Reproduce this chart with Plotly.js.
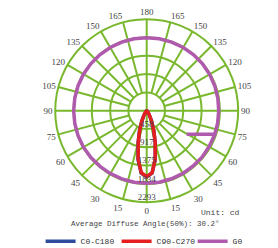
<!DOCTYPE html>
<html>
<head>
<meta charset="utf-8">
<script src="https://cdn.plot.ly/plotly-3.0.1.min.js"></script>
<style>html,body{margin:0;padding:0;background:#fff;}#chart{width:278px;height:248px;}</style>
</head>
<body>
<div id="chart"></div>
<script>
// ---- data ----
var seriesNames = ['C0-C180', 'C90-C270', 'G0'];
// beam curves: angle (deg, 0 = straight down) and intensity (cd)
var beamAngles = [-90, -80, -70, -60, -50, -45, -40, -35, -30, -25, -20, -15, -10, -5, 0, 5, 10, 15, 20, 25, 30, 35, 40, 45, 50, 60, 70, 80, 90];
var c0Values   = [0, 0, 1, 3, 9, 16, 37, 78, 155, 300, 525, 840, 1250, 1575, 1660, 1565, 1235, 825, 512, 292, 150, 75, 35, 15, 8, 3, 1, 0, 0];
var c90Values  = [0, 0, 1, 3, 8, 15, 35, 75, 150, 290, 510, 820, 1230, 1560, 1654, 1560, 1230, 820, 510, 290, 150, 75, 35, 15, 8, 3, 1, 0, 0];
// G0 curve
var g0Angles = [59.5, 71, 80, 90, 100, 110, 120, 130, 140, 150, 160, 170, 180, 190, 200, 210, 220, 230, 240, 250, 260, 270, 280, 290, 300, 310, 320, 330, 340, 350, 360, 370, 380, 390, 400, 410, 420, 430, 431];
var g0Values = [1163, 1805, 1805, 1805, 1810, 1815, 1820, 1825, 1830, 1830, 1830, 1830, 1830, 1830, 1830, 1830, 1830, 1830, 1830, 1830, 1830, 1830, 1830, 1830, 1830, 1825, 1820, 1820, 1820, 1820, 1820, 1820, 1815, 1815, 1810, 1810, 1805, 1805, 1805];
// radial ticks
var radialTicks = [458.6, 917.2, 1375.8, 1834.4, 2293];
var radialLabels = ['458', '917', '1375', '1834', '2293'];
// angular ticks
var angleTicks = [0, 15, 30, 45, 60, 75, 90, 105, 120, 135, 150, 165, 180, 195, 210, 225, 240, 255, 270, 285, 300, 315, 330, 345];
var angleLabels = ['0', '15', '30', '45', '60', '75', '90', '105', '120', '135', '150', '165', '180', '165', '150', '135', '120', '105', '90', '75', '60', '45', '30', '15'];
var unitText = 'Unit: cd';
var noteText = 'Average Diffuse Angle(50%): 30.2°';

// ---- styling ----
var green = '#79b82e';
var colors = ['#2d4c9c', '#e51f1f', '#b05aae'];
var monoFont = '"Liberation Mono", "Courier New", monospace';
var serifFont = '"Liberation Serif", "Times New Roman", serif';

// spoke grid (drawn from first ring outward, plus full cross)
var rMax = radialTicks[radialTicks.length - 1];
var gTheta = [], gR = [];
angleTicks.forEach(function (a) {
  if (a % 90 === 0) return;
  gTheta.push(a, a, null); gR.push(radialTicks[0], rMax, null);
});
gTheta.push(0, 0, 180, null, 90, 90, 270); gR.push(rMax, 0, rMax, null, rMax, 0, rMax);

var traces = [
  {type: 'scatterpolar', mode: 'lines', theta: gTheta, r: gR, connectgaps: false,
   line: {color: green, width: 2}, showlegend: false, hoverinfo: 'skip'},
  {type: 'scatterpolar', mode: 'lines', name: seriesNames[0], theta: beamAngles, r: c0Values,
   line: {color: colors[0], width: 3.5}},
  {type: 'scatterpolar', mode: 'lines', name: seriesNames[1], theta: beamAngles, r: c90Values,
   line: {color: colors[1], width: 3.5}},
  {type: 'scatterpolar', mode: 'lines', name: seriesNames[2], theta: g0Angles, r: g0Values,
   line: {color: colors[2], width: 3.5}},
  {type: 'scatterpolar', mode: 'text', theta: radialTicks.map(function () { return 0; }), r: radialTicks,
   text: radialLabels, textposition: 'top center', cliponaxis: false,
   textfont: {family: serifFont, size: 9, color: '#444'}, showlegend: false, hoverinfo: 'skip'}
];

var layout = {
  width: 278, height: 248,
  margin: {l: 0, r: 0, t: 0, b: 0, autoexpand: false},
  paper_bgcolor: '#fff',
  showlegend: true,
  polar: {
    domain: {x: [0.1986, 0.8568], y: [0.1847, 0.9226]},
    bgcolor: '#fff',
    angularaxis: {
      rotation: 270, direction: 'counterclockwise',
      tickmode: 'array', tickvals: angleTicks, ticktext: angleLabels,
      showgrid: false, showline: true, linecolor: green, linewidth: 2, ticks: '',
      tickfont: {family: serifFont, size: 9, color: '#444'}
    },
    radialaxis: {
      range: [0, rMax], autorange: false,
      tickmode: 'array', tickvals: radialTicks,
      showticklabels: false, showline: false, ticks: '',
      gridcolor: green, gridwidth: 2
    }
  },
  legend: {
    orientation: 'h', x: 0.146, xanchor: 'left', y: 0.027, yanchor: 'middle',
    entrywidth: 31, entrywidthmode: 'pixels', itemwidth: 30,
    font: {family: monoFont, size: 8, color: '#333'},
    bgcolor: 'rgba(0,0,0,0)', tracegroupgap: 0
  },
  annotations: [
    {xref: 'paper', yref: 'paper', x: 0.872, y: 0.145, xanchor: 'right', yanchor: 'middle',
     text: unitText, showarrow: false, font: {family: monoFont, size: 8, color: '#444'}},
    {xref: 'paper', yref: 'paper', x: 0.523, y: 0.097, xanchor: 'center', yanchor: 'middle',
     text: noteText, showarrow: false, font: {family: monoFont, size: 7.5, color: '#444'}}
  ]
};

Plotly.newPlot('chart', traces, layout, {displayModeBar: false, staticPlot: true});
</script>
</body>
</html>
